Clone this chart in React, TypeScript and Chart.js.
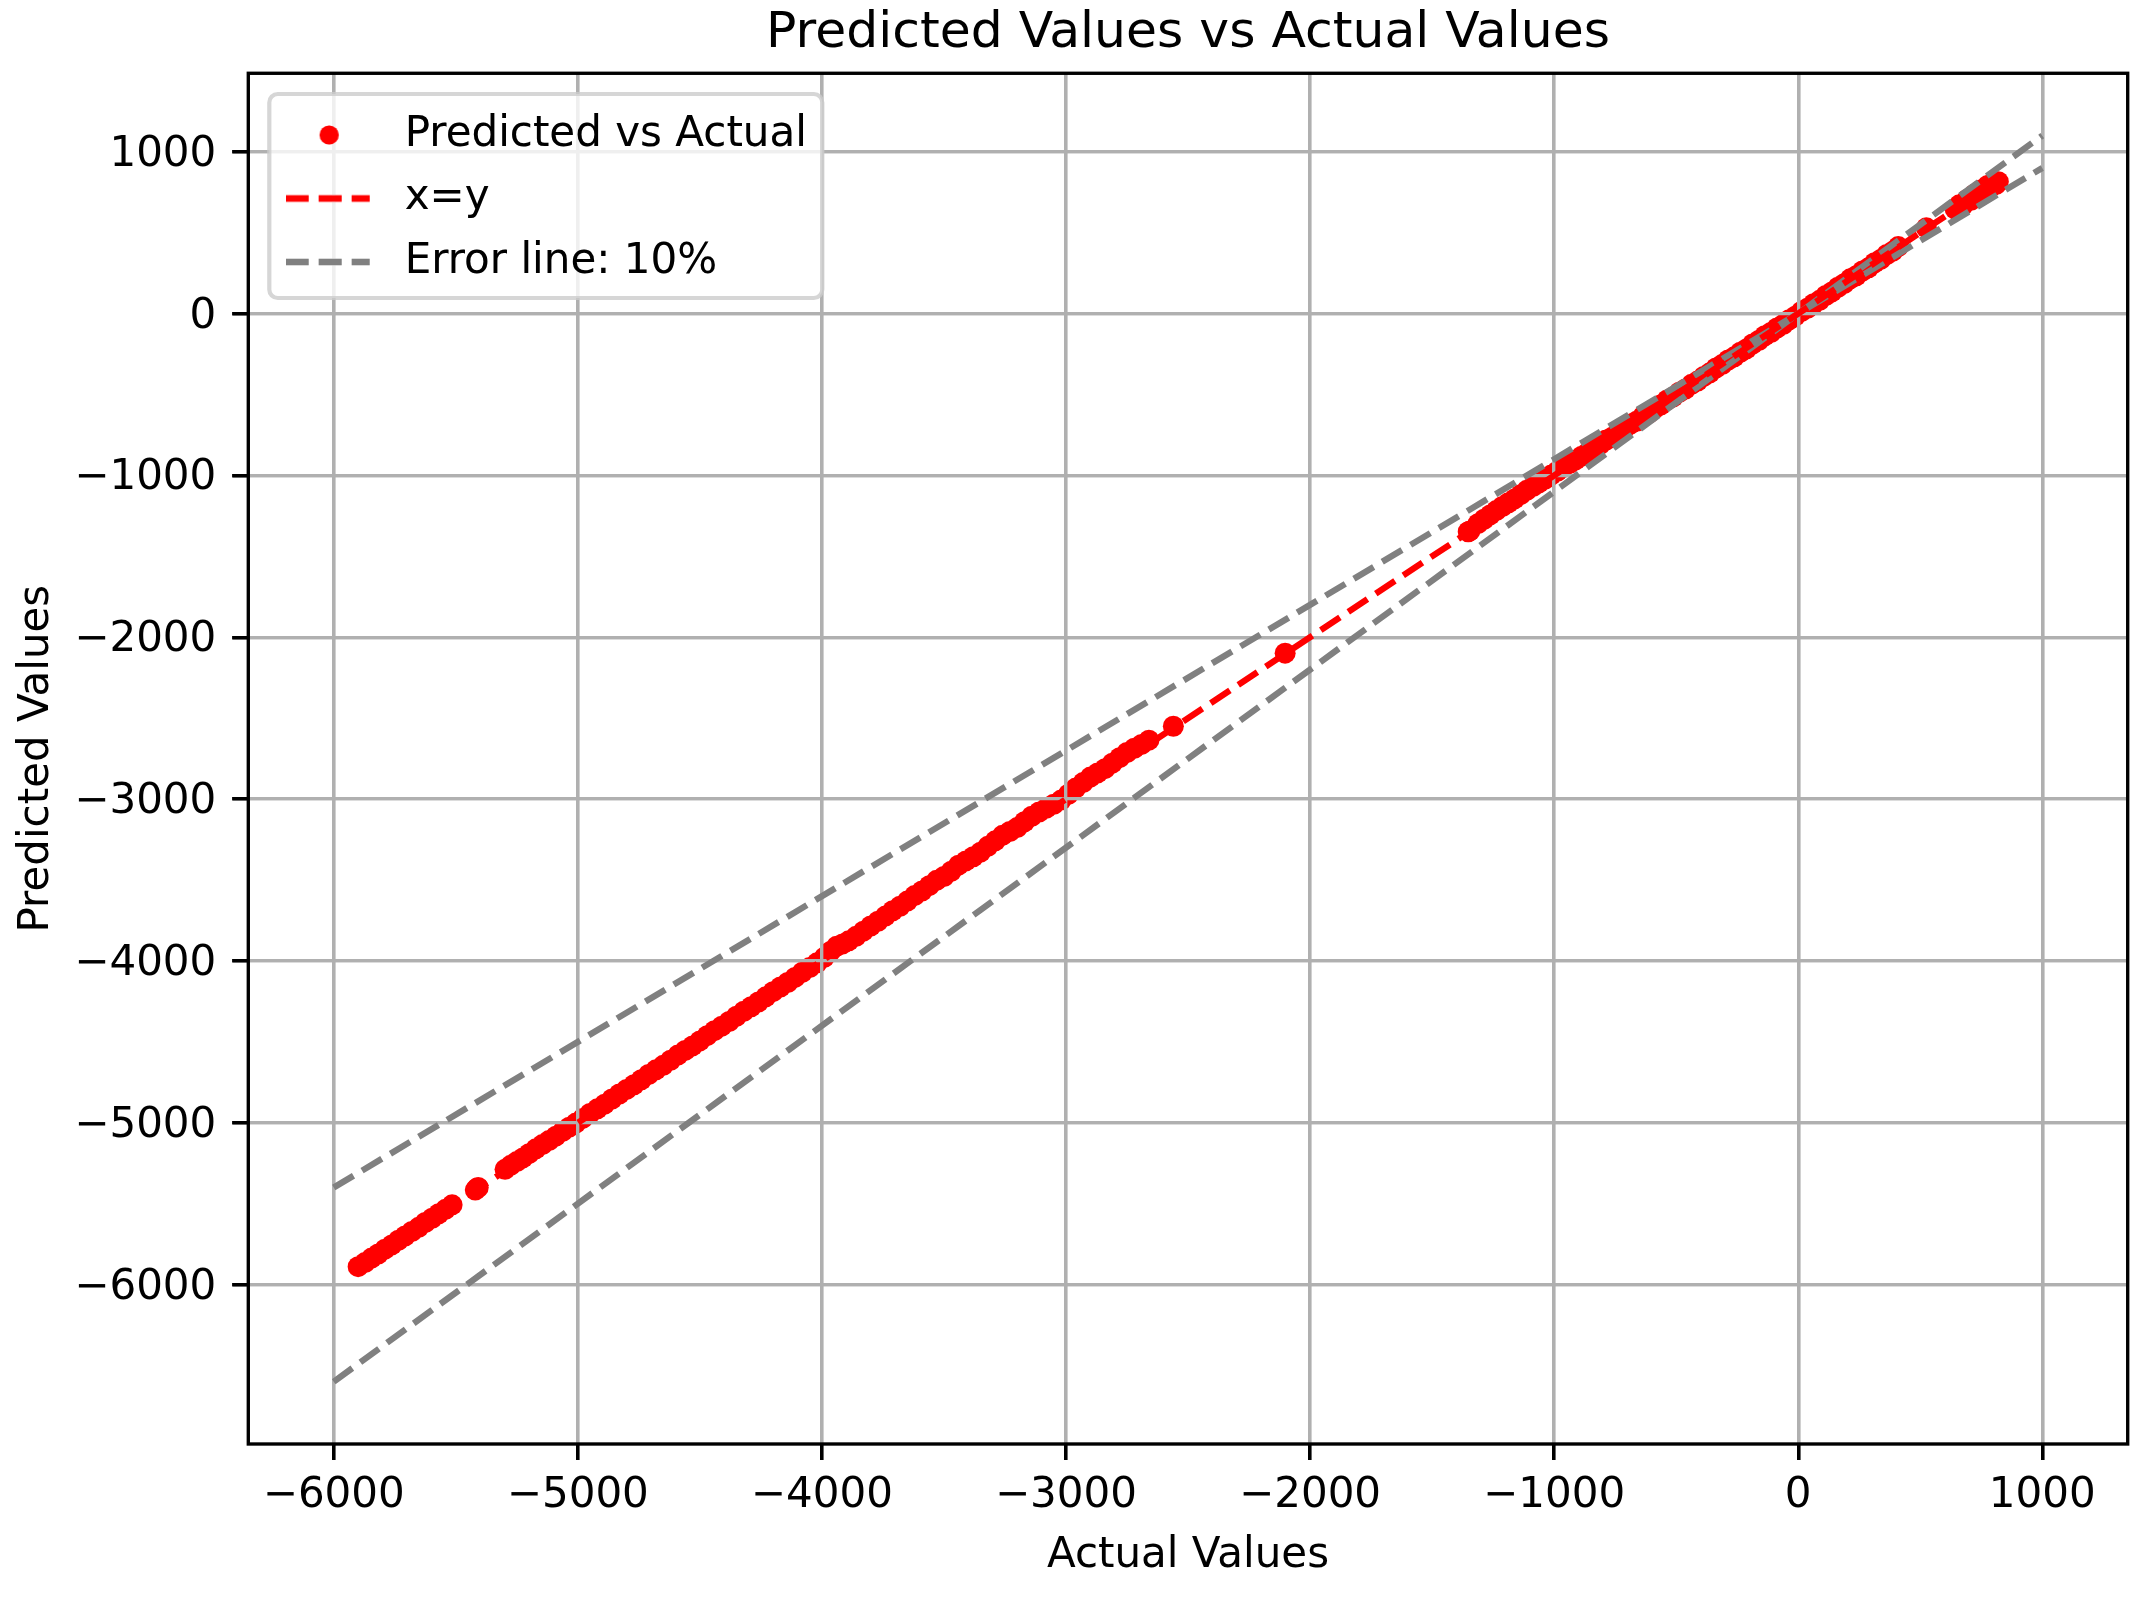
import React, { useEffect, useRef } from 'react';
import { Chart, registerables } from 'chart.js';

Chart.register(...registerables);

// ---------- data ----------
const actualValues = [
  -5900, -5872, -5845, -5818, -5790, -5762, -5735, -5708, -5680, -5652, -5625, -5597, -5570, -5542, -5515,
  -5420, -5408, -5414,
  -5298, -5275, -5250, -5225, -5200, -5172, -5145, -5118, -5090, -5062, -5035, -5008, -4980, -4950, -4920,
  -4890, -4860, -4830, -4800, -4770, -4740, -4710, -4680, -4650, -4620, -4590, -4560, -4530, -4500, -4470,
  -4440, -4410, -4380, -4350, -4320, -4290, -4260, -4230, -4200, -4170, -4140, -4110, -4080, -4050, -4020,
  -3990, -3965, -3940, -3915, -3890, -3860, -3830, -3800, -3770, -3740, -3710, -3680, -3650, -3620, -3590,
  -3560, -3530, -3500, -3470, -3440, -3410, -3380, -3350, -3320, -3290, -3260, -3230, -3200, -3170, -3140,
  -3110, -3080, -3050, -3020, -2990, -2960, -2930, -2900, -2870, -2840, -2810, -2780, -2750, -2720, -2690,
  -2660,
  -2560, -2102,
  -1352, -1345, -1312, -1287, -1262, -1237, -1212, -1187, -1162, -1137, -1112, -1087, -1062, -1037, -1012,
  -987, -962, -937, -912, -887, -862, -837, -812, -787, -762, -737, -712, -687, -662, -637, -612, -587,
  -562, -537, -512, -487, -462, -437, -412, -387, -362, -337, -312, -287, -262, -237, -212, -187, -162,
  -137, -112, -87, -62, -37, -12, 13, 38, 63, 88, 113, 138, 163, 188, 213, 238, 263, 288, 313, 338, 363,
  388, 410,
  525,
  643, 660, 676, 692, 708, 722, 736, 750, 763, 776, 788, 800, 810, 820,
];

const predictedValues = [
  -5889, -5864, -5836, -5811, -5781, -5755, -5726, -5700, -5672, -5646, -5616, -5590, -5562, -5535, -5507,
  -5416, -5400, -5405,
  -5288, -5263, -5240, -5217, -5191, -5161, -5135, -5110, -5083, -5053, -5027, -5002, -4973, -4942, -4914,
  -4885, -4853, -4822, -4794, -4765, -4734, -4702, -4673, -4645, -4614, -4582, -4553, -4525, -4494, -4462,
  -4431, -4403, -4374, -4342, -4311, -4283, -4254, -4222, -4190, -4161, -4133, -4102, -4070, -4041, -4012,
  -3978, -3941, -3910, -3895, -3876, -3848, -3816, -3784, -3755, -3723, -3690, -3662, -3630, -3596, -3568,
  -3535, -3502, -3478, -3446, -3408, -3382, -3356, -3328, -3292, -3258, -3224, -3200, -3176, -3140, -3106,
  -3080, -3056, -3032, -3006, -2970, -2932, -2898, -2864, -2838, -2812, -2778, -2744, -2712, -2686, -2662,
  -2636,
  -2550, -2098,
  -1348, -1343, -1298, -1271, -1244, -1217, -1192, -1169, -1145, -1119, -1092, -1069, -1046, -1023, -998,
  -974, -950, -927, -904, -881, -859, -829, -810, -781, -764, -733, -711, -682, -665, -635, -616, -586,
  -564, -534, -515, -486, -466, -437, -417, -388, -366, -336, -315, -287, -267, -239, -218, -188, -166,
  -137, -117, -89, -68, -38, -16, 13, 33, 61, 82, 112, 134, 163, 185, 215, 234, 263, 283, 314, 335, 365,
  386, 414,
  530,
  646, 672, 670, 705, 700, 738, 730, 765, 752, 792, 780, 812, 798, 815,
];

const errorLineX = [-6000, 1000];
const errorUpperY = [-5400, 900];
const errorLowerY = [-6600, 1100];

const xTickValues = [-6000, -5000, -4000, -3000, -2000, -1000, 0, 1000];
const yTickValues = [-6000, -5000, -4000, -3000, -2000, -1000, 0, 1000];
const xRange = [-6350, 1350];
const yRange = [-6985, 1485];

const legendLabels = ['Predicted vs Actual', 'x=y', 'Error line: 10%'];
const titleText = 'Predicted Values vs Actual Values';
const xAxisTitle = 'Actual Values';
const yAxisTitle = 'Predicted Values';

// ---------- styling ----------
const FONT = 'DejaVu Sans';
const PT = 4.2;

const fmt = (v: number | string) => {
  const n = Number(v);
  return n < 0 ? '\u2212' + Math.abs(n) : String(n);
};

function makeLineImage(color: string) {
  const c = document.createElement('canvas');
  c.width = 98;
  c.height = 40;
  const ctx = c.getContext('2d')!;
  ctx.strokeStyle = color;
  ctx.lineWidth = 1.5 * PT;
  ctx.lineCap = 'butt';
  ctx.setLineDash([23, 10]);
  ctx.beginPath();
  ctx.moveTo(0, 20);
  ctx.lineTo(84, 20);
  ctx.stroke();
  return c;
}

function makeDotImage(color: string) {
  const c = document.createElement('canvas');
  c.width = 98;
  c.height = 40;
  const ctx = c.getContext('2d')!;
  ctx.fillStyle = color;
  ctx.beginPath();
  ctx.arc(43.5, 20, 9.6, 0, Math.PI * 2);
  ctx.fill();
  return c;
}

const mplPlugin = {
  id: 'mplStyle',
  afterUpdate(chart: any) {
    const lg = chart.legend;
    const ca = chart.chartArea;
    if (lg && ca) {
      lg.left = ca.left + 15.8;
      lg.top = ca.top + 19.2;
    }
  },
  afterDatasetDraw(chart: any, args: any) {
    if (args.index === 0) {
      chart.scales.x.drawGrid(chart.chartArea);
      chart.scales.y.drawGrid(chart.chartArea);
    }
  },
  afterDatasetsDraw(chart: any) {
    const { ctx, chartArea: ca } = chart;
    ctx.save();
    ctx.strokeStyle = 'black';
    ctx.lineWidth = 0.8 * PT;
    ctx.lineJoin = 'miter';
    ctx.strokeRect(ca.left, ca.top, ca.right - ca.left, ca.bottom - ca.top);
    ctx.restore();
  },
  afterDraw(chart: any) {
    const { ctx, chartArea: ca } = chart;
    ctx.save();
    const x = ca.left + 21;
    const y = ca.top + 20.7;
    const w = 553;
    const h = 204;
    ctx.beginPath();
    ctx.roundRect(x, y, w, h, 8.4);
    ctx.fillStyle = 'rgba(255,255,255,0.8)';
    ctx.fill();
    ctx.lineWidth = 1.0 * PT;
    ctx.strokeStyle = 'rgba(204,204,204,0.8)';
    ctx.stroke();
    ctx.restore();
    if (chart.legend) chart.legend.draw();
  },
};

export default function App() {
  const ref = useRef<HTMLCanvasElement | null>(null);

  useEffect(() => {
    document.body.style.margin = '0';
    if (!ref.current) return;

    const scatterData = actualValues.map((a, i) => ({ x: a, y: predictedValues[i] }));
    const minA = Math.min(...actualValues);
    const maxA = Math.max(...actualValues);
    const identityData = [
      { x: minA, y: minA },
      { x: maxA, y: maxA },
    ];
    const upperData = errorLineX.map((x, i) => ({ x, y: errorUpperY[i] }));
    const lowerData = errorLineX.map((x, i) => ({ x, y: errorLowerY[i] }));

    const dotImg = makeDotImage('red');
    const redLineImg = makeLineImage('red');
    const grayLineImg = makeLineImage('gray');

    const lineStyle = {
      showLine: true,
      borderWidth: 1.5 * PT,
      borderDash: [23, 10],
      pointRadius: 0,
      pointHoverRadius: 0,
      fill: false,
      order: 0,
    };

    const tickFont = { family: FONT, size: 10 * PT, lineHeight: 1.2 };

    const chart = new Chart(ref.current, {
      type: 'scatter',
      data: {
        datasets: [
          {
            label: legendLabels[0],
            data: scatterData,
            backgroundColor: 'red',
            borderWidth: 0,
            pointRadius: 10.5,
            pointHoverRadius: 10.5,
            order: 1,
          },
          { label: legendLabels[1], data: identityData, borderColor: 'red', ...lineStyle },
          { label: legendLabels[2], data: upperData, borderColor: 'gray', ...lineStyle },
          { label: '_error_lower', data: lowerData, borderColor: 'gray', ...lineStyle },
        ],
      } as any,
      options: {
        responsive: false,
        animation: false,
        devicePixelRatio: 1,
        events: [],
        layout: { padding: { top: 0, right: 22.3, bottom: 0, left: 0 } },
        plugins: {
          title: {
            display: true,
            text: titleText,
            fullSize: false,
            color: 'black',
            font: { family: FONT, size: 12 * PT, weight: 'normal', lineHeight: 1.2 },
            padding: { top: 3.7, bottom: 9.1 },
          },
          legend: {
            display: true,
            position: 'chartArea',
            align: 'start',
            labels: {
              usePointStyle: true,
              pointStyleWidth: 98.1,
              padding: 21.5,
              color: 'black',
              font: tickFont,
              generateLabels: () => [
                { text: legendLabels[0], pointStyle: dotImg, fillStyle: 'red', strokeStyle: 'red', lineWidth: 0, fontColor: 'black', hidden: false, datasetIndex: 0 },
                { text: legendLabels[1], pointStyle: redLineImg, fillStyle: 'red', strokeStyle: 'red', lineWidth: 0, fontColor: 'black', hidden: false, datasetIndex: 1 },
                { text: legendLabels[2], pointStyle: grayLineImg, fillStyle: 'gray', strokeStyle: 'gray', lineWidth: 0, fontColor: 'black', hidden: false, datasetIndex: 2 },
              ],
            },
          },
          tooltip: { enabled: false },
        },
        scales: {
          x: {
            type: 'linear',
            position: 'bottom',
            min: xRange[0],
            max: xRange[1],
            afterBuildTicks: (scale: any) => {
              scale.ticks = xTickValues.map((v) => ({ value: v }));
            },
            afterFit: (scale: any) => {
              scale.height = 153;
            },
            ticks: {
              callback: (v: any) => fmt(v),
              color: 'black',
              font: tickFont,
              padding: 10.7,
              maxRotation: 0,
              minRotation: 0,
              autoSkip: false,
            },
            grid: {
              color: '#b0b0b0',
              lineWidth: 0.8 * PT,
              tickColor: 'black',
              tickWidth: 0.8 * PT,
              tickLength: 16,
            },
            border: { display: false },
            title: {
              display: true,
              text: xAxisTitle,
              color: 'black',
              font: tickFont,
              padding: { top: 0, bottom: 15.8 },
            },
          },
          y: {
            type: 'linear',
            position: 'left',
            min: yRange[0],
            max: yRange[1],
            afterBuildTicks: (scale: any) => {
              scale.ticks = yTickValues.map((v) => ({ value: v }));
            },
            afterFit: (scale: any) => {
              scale.width = 248.3;
            },
            ticks: {
              callback: (v: any) => fmt(v),
              color: 'black',
              font: tickFont,
              padding: 16,
              labelOffset: 3,
              autoSkip: false,
            },
            grid: {
              color: '#b0b0b0',
              lineWidth: 0.8 * PT,
              tickColor: 'black',
              tickWidth: 0.8 * PT,
              tickLength: 16,
            },
            border: { display: false },
            title: {
              display: true,
              text: yAxisTitle,
              color: 'black',
              font: tickFont,
              padding: { top: 12, bottom: 0 },
            },
          },
        },
      } as any,
      plugins: [mplPlugin as any],
    });

    return () => {
      chart.destroy();
    };
  }, []);

  return (
    <div>
      <canvas ref={ref} width={2150} height={1597} style={{ display: 'block' }} />
    </div>
  );
}
